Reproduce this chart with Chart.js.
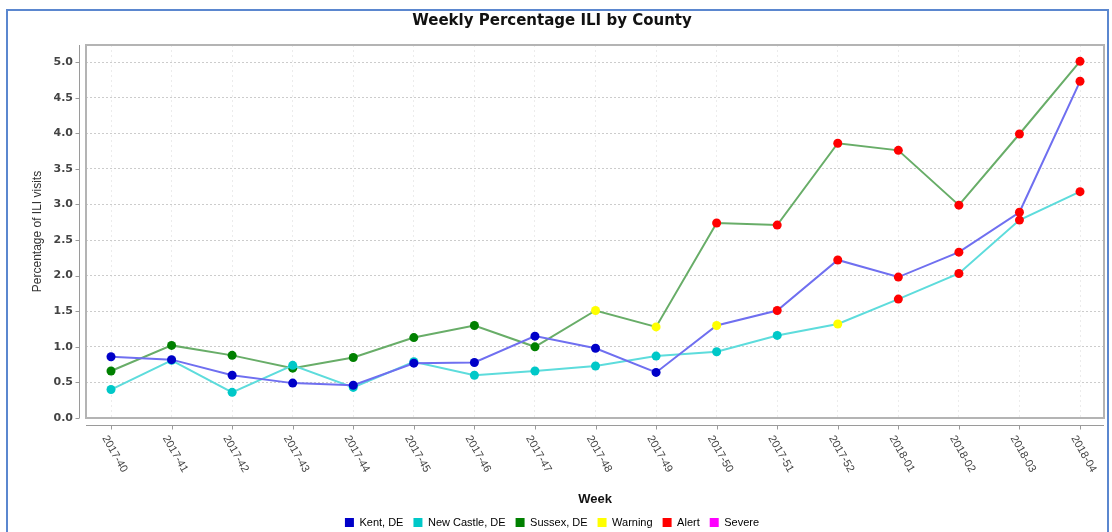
<!DOCTYPE html>
<html>
<head>
<meta charset="utf-8">
<title>Weekly Percentage ILI by County</title>
<script src="https://cdn.jsdelivr.net/npm/chart.js@4.4.0/dist/chart.umd.min.js"></script>
<style>
  html, body { margin: 0; padding: 0; background: #fff; }
  #wrap { position: relative; width: 1112px; height: 532px; overflow: hidden; }
  #frame {
    position: absolute; left: 6px; top: 9px; width: 1103px; height: 560px;
    border: 2px solid #5b87cf; box-sizing: border-box;
  }
  #chart { position: absolute; left: 0; top: 0; }
</style>
</head>
<body>
<div id="wrap">
  <div id="frame"></div>
  <canvas id="chart" width="1112" height="532"></canvas>
</div>
<script>
// weeks on the x axis
const weeks = ['2017-40', '2017-41', '2017-42', '2017-43', '2017-44', '2017-45', '2017-46',
  '2017-47', '2017-48', '2017-49', '2017-50', '2017-51', '2017-52', '2018-01', '2018-02',
  '2018-03', '2018-04'];

// percentage of ILI visits per county
const kent      = [0.86, 0.82, 0.60, 0.49, 0.46, 0.77, 0.78, 1.15, 0.98, 0.64, 1.30, 1.51, 2.22, 1.98, 2.33, 2.89, 4.73];
const newCastle = [0.40, 0.81, 0.36, 0.74, 0.43, 0.79, 0.60, 0.66, 0.73, 0.87, 0.93, 1.16, 1.32, 1.67, 2.03, 2.78, 3.18];
const sussex    = [0.66, 1.02, 0.88, 0.70, 0.85, 1.13, 1.30, 1.00, 1.51, 1.28, 2.74, 2.71, 3.86, 3.76, 2.99, 3.99, 5.01];

// threshold level per week: n = normal, w = warning, a = alert
const kentLevel      = ['n','n','n','n','n','n','n','n','n','n','w','a','a','a','a','a','a'];
const newCastleLevel = ['n','n','n','n','n','n','n','n','n','n','n','n','w','a','a','a','a'];
const sussexLevel    = ['n','n','n','n','n','n','n','n','w','w','a','a','a','a','a','a','a'];

const yTicks = [0, 0.5, 1, 1.5, 2, 2.5, 3, 3.5, 4, 4.5, 5];

const levelColors = { w: '#ffff00', a: '#ff0000', s: '#ff00ff' };
const legendItems = [
  ['Kent, DE', '#0000c8'],
  ['New Castle, DE', '#00c8c8'],
  ['Sussex, DE', '#008000'],
  ['Warning', '#ffff00'],
  ['Alert', '#ff0000'],
  ['Severe', '#ff00ff']
];

function makeSeries(label, values, levels, lineColor, pointColor) {
  return {
    label: label,
    data: values.map((v, i) => ({ x: i, y: v })),
    borderColor: lineColor,
    borderWidth: 2,
    tension: 0,
    pointRadius: 4.5,
    pointHoverRadius: 4.5,
    pointBorderWidth: 0,
    pointBackgroundColor: levels.map(l => l === 'n' ? pointColor : levelColors[l])
  };
}

// plot frame, axis lines with tick marks, rotated week labels
const axesPlugin = {
  id: 'axesPlugin',
  beforeDatasetsDraw(chart) {
    const { ctx, chartArea: a } = chart;
    ctx.save();
    ctx.strokeStyle = '#b4b4b4';
    ctx.lineWidth = 2;
    ctx.strokeRect(a.left, a.top, a.right - a.left, a.bottom - a.top);
    ctx.restore();
  },
  afterDraw(chart) {
    const { ctx, chartArea: a } = chart;
    const xs = chart.scales.x, ys = chart.scales.y;
    ctx.save();
    ctx.strokeStyle = '#9a9a9a';
    ctx.lineWidth = 1;
    // y axis
    const ax = a.left - 6.5;
    ctx.beginPath();
    ctx.moveTo(ax, a.top);
    ctx.lineTo(ax, a.bottom);
    yTicks.forEach(v => {
      const py = Math.round(ys.getPixelForValue(v)) + 0.5;
      ctx.moveTo(ax - 4, py);
      ctx.lineTo(ax, py);
    });
    // x axis
    const ay = a.bottom + 7.5;
    ctx.moveTo(a.left, ay);
    ctx.lineTo(a.right, ay);
    weeks.forEach((w, i) => {
      const px = Math.round(xs.getPixelForValue(i)) + 0.5;
      ctx.moveTo(px, ay);
      ctx.lineTo(px, ay + 4);
    });
    ctx.stroke();
    // week labels
    ctx.fillStyle = '#444';
    ctx.font = '11px "Liberation Sans", Arial, sans-serif';
    ctx.textAlign = 'left';
    ctx.textBaseline = 'middle';
    weeks.forEach((w, i) => {
      const px = xs.getPixelForValue(i);
      ctx.save();
      ctx.translate(px - 6.5, a.bottom + 18.5);
      ctx.rotate(Math.PI / 3);
      ctx.fillText(w, 0, 0);
      ctx.restore();
    });
    ctx.restore();
  }
};

new Chart(document.getElementById('chart'), {
  type: 'line',
  data: {
    datasets: [
      makeSeries('Kent, DE', kent, kentLevel, '#6f6ff0', '#0000c8'),
      makeSeries('New Castle, DE', newCastle, newCastleLevel, '#5ddcdc', '#00c8c8'),
      makeSeries('Sussex, DE', sussex, sussexLevel, '#68ad68', '#008000')
    ]
  },
  options: {
    responsive: false,
    animation: false,
    layout: { padding: { left: 0, right: 8, top: 0, bottom: -6 } },
    plugins: {
      title: {
        display: true,
        text: 'Weekly Percentage ILI by County',
        color: '#111',
        font: { family: '"DejaVu Sans", sans-serif', size: 15, weight: 'bold' },
        padding: { top: 12, bottom: 15 }
      },
      legend: {
        position: 'bottom',
        labels: {
          boxWidth: 9,
          boxHeight: 9,
          padding: 10,
          color: '#333',
          font: { family: '"Liberation Sans", Arial, sans-serif', size: 11 },
          generateLabels: () => legendItems.map(([text, color]) => ({
            text: text,
            fillStyle: color,
            strokeStyle: color,
            lineWidth: 0,
            hidden: false
          }))
        },
        onClick: null
      },
      tooltip: { enabled: false }
    },
    scales: {
      x: {
        type: 'linear',
        min: -0.413,
        max: 16.396,
        ticks: { display: false, stepSize: 1, includeBounds: false },
        grid: { color: '#ececec', lineWidth: 1, drawTicks: false },
        border: { display: false, dash: [2, 3] },
        title: {
          display: true,
          text: 'Week',
          color: '#111',
          font: { family: '"Liberation Sans", Arial, sans-serif', size: 13, weight: 'bold' },
          padding: { top: 0, bottom: 0 }
        },
        afterFit(scale) { scale.height = 89; }
      },
      y: {
        min: 0,
        max: 5.24,
        ticks: {
          stepSize: 0.5,
          includeBounds: false,
          padding: 13,
          color: '#444',
          font: { family: '"DejaVu Sans", sans-serif', size: 11, weight: 'bold' },
          callback: v => v.toFixed(1)
        },
        grid: { color: '#cccccc', lineWidth: 1, drawTicks: false },
        border: { display: false, dash: [2, 2] },
        title: {
          display: true,
          text: 'Percentage of ILI visits',
          color: '#333',
          font: { family: '"Liberation Sans", Arial, sans-serif', size: 12 },
          padding: { top: 30, bottom: 0 }
        },
        afterFit(scale) { scale.width = 86; }
      }
    }
  },
  plugins: [axesPlugin]
});
</script>
</body>
</html>
